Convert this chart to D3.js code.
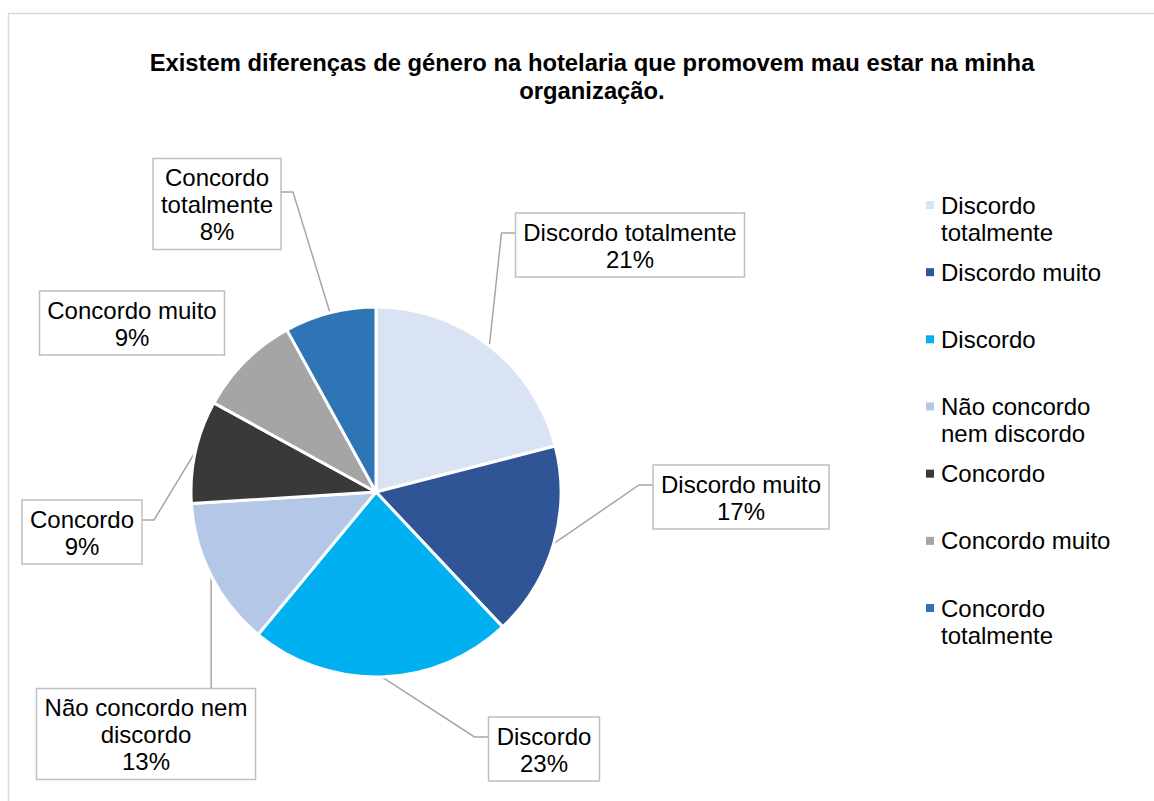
<!DOCTYPE html>
<meta charset="utf-8">
<style>
  body { margin: 0; background: #fff; }
  svg { display: block; font-family: "Liberation Sans", Arial, sans-serif; }
  .title { font-size: 23.8px; font-weight: bold; fill: #000; }
  .lbl { font-size: 24px; fill: #000; }
  .legend { font-size: 24px; fill: #000; }
  .leader { fill: none; stroke: #a6a6a6; stroke-width: 1.5px; }
  .box { fill: #fff; stroke: #bfbfbf; stroke-width: 1.5px; }
</style>
<body>
<script src="https://cdn.jsdelivr.net/npm/d3@7"></script>
<script>

// data
var categories = ["Discordo totalmente", "Discordo muito", "Discordo",
                  "Não concordo nem discordo", "Concordo", "Concordo muito", "Concordo totalmente"];
var values = [21, 17, 23, 13, 9, 9, 8];
var colors = ["#dae3f3", "#2f5597", "#00b0f0", "#b4c7e7", "#3b3838", "#a5a5a5", "#2e75b6"];
// how the names wrap in the data labels and the legend
var labelLines = [["Discordo totalmente"], ["Discordo muito"], ["Discordo"],
                  ["Não concordo nem", "discordo"], ["Concordo"], ["Concordo muito"], ["Concordo", "totalmente"]];
var legendLines = [["Discordo", "totalmente"], ["Discordo muito"], ["Discordo"],
                   ["Não concordo", "nem discordo"], ["Concordo"], ["Concordo muito"], ["Concordo", "totalmente"]];
var titleLines = ["Existem diferenças de género na hotelaria que promovem mau estar na minha", "organização."];

// layout of the data label boxes (centre) and which side the leader joins
var labelPos = [[630, 245], [741, 497], [544, 749], [146, 734], [82, 532], [132, 323], [217, 204]];
var labelSide = ["left", "left", "left", "top", "right", "none", "right"];

var width = 1154, height = 801;
var cx = 376, cy = 492, radius = 185;

var svg = d3.select("body").append("svg")
    .attr("width", width)
    .attr("height", height);

// chart frame
svg.append("rect")
    .attr("x", 8.5).attr("y", 13.5)
    .attr("width", 1200).attr("height", 900)
    .attr("fill", "#fff").attr("stroke", "#d9d9d9").attr("stroke-width", 1.5);

// title
svg.append("text")
    .attr("class", "title")
    .attr("text-anchor", "middle")
    .selectAll("tspan")
    .data(titleLines)
    .enter().append("tspan")
    .attr("x", 592)
    .attr("y", function(d, i) { return 71 + i * 28; })
    .text(function(d) { return d; });

var pie = d3.pie().sort(null).value(function(d) { return d; });
var arcs = pie(values);

var arc = d3.arc().innerRadius(0).outerRadius(radius);
var edge = d3.arc().innerRadius(radius).outerRadius(radius);

var g = svg.append("g").attr("transform", "translate(" + cx + "," + cy + ")");

g.selectAll("path.slice")
    .data(arcs)
    .enter().append("path")
    .attr("class", "slice")
    .attr("d", arc)
    .attr("fill", function(d, i) { return colors[i]; })
    .attr("stroke", "#fff")
    .attr("stroke-width", 3)
    .attr("stroke-linejoin", "round");

// data labels
var lineH = 27;
arcs.forEach(function(d, i) {
  var lines = labelLines[i].concat([values[i] + "%"]);
  var pos = labelPos[i];

  var lg = svg.append("g");
  var txt = lg.append("text").attr("class", "lbl").attr("text-anchor", "middle");
  lines.forEach(function(s) { txt.append("tspan").text(s); });

  var tw = d3.max(txt.selectAll("tspan").nodes(), function(n) { return n.getComputedTextLength(); });
  var bw = Math.round(tw + 16), bh = lines.length * lineH + 10;
  var x0 = pos[0] - bw / 2, y0 = pos[1] - bh / 2;

  txt.selectAll("tspan")
    .attr("x", pos[0])
    .attr("y", function(s, k) { return y0 + lineH * (k + 1) + 0.5; });

  lg.insert("rect", "text")
    .attr("class", "box")
    .attr("x", x0).attr("y", y0)
    .attr("width", bw).attr("height", bh);

  // leader line from the slice edge
  var p = edge.centroid(d);
  var px = cx + p[0], py = cy + p[1];
  var pts = null, ey = pos[1] - 12;
  if (labelSide[i] == "left") pts = [[px, py], [x0 - 14, ey], [x0, ey]];
  if (labelSide[i] == "right") pts = [[px, py], [x0 + bw + 12, ey], [x0 + bw, ey]];
  if (labelSide[i] == "top") pts = [[px, py], [px, y0]];
  if (pts) {
    svg.insert("path", "g")
      .attr("class", "leader")
      .attr("d", d3.line()(pts));
  }
});

// legend
var legendY = d3.scaleLinear().domain([0, 6]).range([205, 608]);
var leg = svg.append("g");
legendLines.forEach(function(lines, i) {
  var yy = legendY(i);
  leg.append("rect")
    .attr("x", 926).attr("y", yy - 4)
    .attr("width", 8).attr("height", 8)
    .attr("fill", colors[i]);
  var t = leg.append("text").attr("class", "legend");
  lines.forEach(function(s, k) {
    t.append("tspan")
      .attr("x", 941)
      .attr("y", yy + 8.5 + k * lineH)
      .text(s);
  });
});

</script>
</body>
